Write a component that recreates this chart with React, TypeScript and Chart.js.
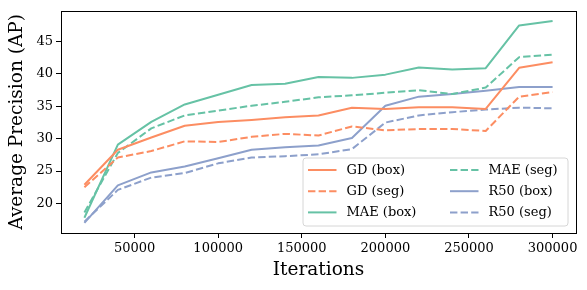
import React, { useEffect, useRef } from 'react';
import { Chart, registerables } from 'chart.js';

Chart.register(...registerables);

const iterations = [20000, 40000, 60000, 80000, 100000, 120000, 140000, 160000, 180000, 200000, 220000, 240000, 260000, 280000, 300000];
const gdBox = [22.9, 28.3, 30.2, 32.0, 32.6, 32.9, 33.3, 33.6, 34.8, 34.6, 34.85, 34.85, 34.6, 40.95, 41.8];
const gdSeg = [22.5, 27.1, 28.1, 29.6, 29.5, 30.3, 30.75, 30.5, 31.9, 31.3, 31.5, 31.5, 31.2, 36.5, 37.2];
const maeBox = [17.8, 29.1, 32.6, 35.3, 36.8, 38.3, 38.5, 39.55, 39.4, 39.9, 41.0, 40.7, 40.9, 47.5, 48.2];
const maeSeg = [18.6, 27.8, 31.6, 33.6, 34.35, 35.1, 35.7, 36.4, 36.7, 37.1, 37.5, 36.9, 37.9, 42.6, 43.0];
const r50Box = [17.0, 22.8, 24.8, 25.7, 27.0, 28.3, 28.7, 28.95, 30.1, 35.1, 36.5, 36.9, 37.4, 38.0, 38.0];
const r50Seg = [17.2, 22.1, 24.0, 24.7, 26.2, 27.1, 27.3, 27.6, 28.4, 32.5, 33.6, 34.1, 34.5, 34.8, 34.7];

const xTicks = [50000, 100000, 150000, 200000, 250000, 300000];
const yTicks = [20, 25, 30, 35, 40, 45];

const ORANGE = '#fc8d62';
const GREEN = '#66c2a5';
const BLUE = '#8da0cb';
const FONT = '"DejaVu Serif", serif';
const DASH = [7.4, 3.2];

const seriesDefs = [
  { label: 'GD (box)', data: gdBox, color: ORANGE, dashed: false },
  { label: 'GD (seg)', data: gdSeg, color: ORANGE, dashed: true },
  { label: 'MAE (box)', data: maeBox, color: GREEN, dashed: false },
  { label: 'MAE (seg)', data: maeSeg, color: GREEN, dashed: true },
  { label: 'R50 (box)', data: r50Box, color: BLUE, dashed: false },
  { label: 'R50 (seg)', data: r50Seg, color: BLUE, dashed: true },
];

const framePlugin = {
  id: 'frameAndLegend',
  afterDraw(chart: any) {
    const { ctx, chartArea } = chart;
    const { left, top, right, bottom } = chartArea;
    ctx.save();
    ctx.strokeStyle = '#000';
    ctx.lineWidth = 1;
    ctx.strokeRect(Math.round(left) + 0.5, Math.round(top) + 0.5, Math.round(right - left), Math.round(bottom - top));

    // legend
    const lw = 265, lh = 68;
    const lx = right - 8 - lw;
    const ly = bottom - 7 - lh;
    const r = 3;
    ctx.beginPath();
    ctx.moveTo(lx + r, ly);
    ctx.lineTo(lx + lw - r, ly);
    ctx.quadraticCurveTo(lx + lw, ly, lx + lw, ly + r);
    ctx.lineTo(lx + lw, ly + lh - r);
    ctx.quadraticCurveTo(lx + lw, ly + lh, lx + lw - r, ly + lh);
    ctx.lineTo(lx + r, ly + lh);
    ctx.quadraticCurveTo(lx, ly + lh, lx, ly + lh - r);
    ctx.lineTo(lx, ly + r);
    ctx.quadraticCurveTo(lx, ly, lx + r, ly);
    ctx.closePath();
    ctx.fillStyle = 'rgba(255,255,255,0.8)';
    ctx.fill();
    ctx.strokeStyle = '#d6d6d6';
    ctx.lineWidth = 1;
    ctx.stroke();

    ctx.font = `13px ${FONT}`;
    ctx.textBaseline = 'middle';
    ctx.textAlign = 'left';
    seriesDefs.forEach((s, i) => {
      const col = Math.floor(i / 3);
      const row = i % 3;
      const cx = lx + 5 + col * 142;
      const cy = ly + 12 + row * 21.2;
      ctx.beginPath();
      ctx.strokeStyle = s.color;
      ctx.lineWidth = 2;
      ctx.setLineDash(s.dashed ? DASH : []);
      ctx.moveTo(cx, cy);
      ctx.lineTo(cx + 28.5, cy);
      ctx.stroke();
      ctx.setLineDash([]);
      ctx.fillStyle = '#000';
      ctx.fillText(s.label, cx + 38.5, cy + 0.5);
    });
    ctx.restore();
  },
};

export default function App() {
  const ref = useRef<HTMLCanvasElement>(null);
  useEffect(() => {
    document.body.style.margin = '0';
    const canvas = ref.current!;
    const chart = new Chart(canvas, {
      type: 'line',
      data: {
        datasets: seriesDefs.map((s) => ({
          label: s.label,
          data: iterations.map((x, i) => ({ x, y: s.data[i] })),
          borderColor: s.color,
          backgroundColor: s.color,
          borderWidth: 2,
          borderDash: s.dashed ? DASH : [],
          pointRadius: 0,
          tension: 0,
          fill: false,
          borderJoinStyle: 'round',
        })),
      },
      options: {
        animation: false,
        responsive: false,
        layout: { padding: { top: 10, right: 11, left: 0, bottom: 0 } },
        plugins: { legend: { display: false }, tooltip: { enabled: false } },
        scales: {
          x: {
            type: 'linear',
            min: 6000,
            max: 314000,
            afterBuildTicks: (s: any) => {
              s.ticks = xTicks.map((v) => ({ value: v }));
            },
            afterFit: (s: any) => {
              s.height = 57;
            },
            grid: { display: true, drawOnChartArea: false, drawTicks: true, tickLength: 5, tickColor: '#000', tickWidth: 1 },
            border: { display: false },
            ticks: {
              color: '#000',
              font: { family: FONT, size: 13 },
              padding: 3,
              maxRotation: 0,
              autoSkip: false,
              callback: (v: any) => String(v),
            },
            title: {
              display: true,
              text: 'Iterations',
              color: '#000',
              font: { family: FONT, size: 18.5 },
              padding: { top: 0, bottom: 9 },
            },
          },
          y: {
            type: 'linear',
            min: 15.44,
            max: 49.76,
            afterBuildTicks: (s: any) => {
              s.ticks = yTicks.map((v) => ({ value: v }));
            },
            afterFit: (s: any) => {
              s.width = 61;
            },
            grid: { display: true, drawOnChartArea: false, drawTicks: true, tickLength: 5, tickColor: '#000', tickWidth: 1 },
            border: { display: false },
            ticks: {
              color: '#000',
              font: { family: FONT, size: 13 },
              padding: 3,
              autoSkip: false,
              callback: (v: any) => String(v),
            },
            title: {
              display: true,
              text: 'Average Precision (AP)',
              color: '#000',
              font: { family: FONT, size: 18.5 },
              padding: { top: 6, bottom: 0 },
            },
          },
        },
      },
      plugins: [framePlugin],
    } as any);
    return () => chart.destroy();
  }, []);
  return (
    <div style={{ width: 587, height: 290 }}>
      <canvas ref={ref} width={587} height={290} style={{ display: 'block' }} />
    </div>
  );
}
